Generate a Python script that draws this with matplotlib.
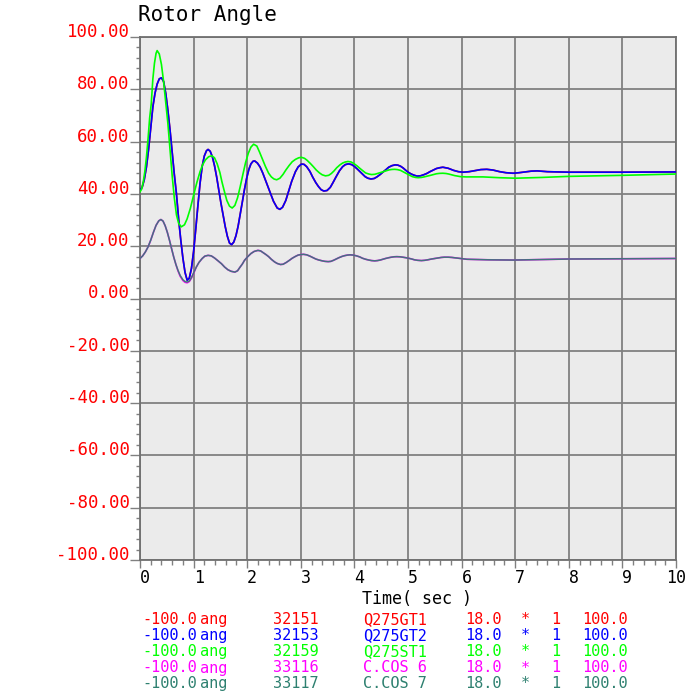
import matplotlib
matplotlib.use("Agg")
import matplotlib.pyplot as plt
from matplotlib.ticker import FixedLocator, MultipleLocator

# ---------------- data ----------------
t_green = [0.00, 0.03, 0.06, 0.09, 0.12, 0.15, 0.18, 0.21, 0.24, 0.27, 0.30, 0.32,
           0.36, 0.40, 0.44, 0.48, 0.52, 0.56, 0.60, 0.64, 0.68, 0.72, 0.77,
           0.83, 0.88, 0.94, 1.00, 1.06, 1.12, 1.17, 1.22, 1.28, 1.34, 1.39, 1.44,
           1.49, 1.53, 1.58, 1.62, 1.67, 1.72, 1.77, 1.82, 1.87, 1.92, 1.97, 2.02,
           2.07, 2.12, 2.18, 2.23, 2.29, 2.34, 2.40, 2.45, 2.50, 2.55, 2.61, 2.67,
           2.72, 2.78, 2.84, 2.90, 2.96, 3.01, 3.07, 3.12, 3.18, 3.23, 3.29, 3.35,
           3.40, 3.46, 3.52, 3.57, 3.62, 3.67, 3.73, 3.78, 3.83, 3.88, 3.94, 3.99,
           4.05, 4.10, 4.16, 4.21, 4.27, 4.32, 4.38, 4.43, 4.54, 4.65, 4.70,
           4.75, 4.80, 4.86, 4.97, 5.08, 5.14, 5.19, 5.25, 5.30, 5.42, 5.53, 5.59,
           5.65, 5.71, 5.76, 5.87, 5.98, 6.08, 6.40, 6.70, 7.00, 7.50, 8.00, 9.00,
           10.00]
v_green = [40.8, 41.8, 44.5, 48.5, 54.0, 61.0, 69.0, 74.5, 84.0, 90.0, 93.8, 94.8,
           93.5, 89.5, 83.0, 75.0, 67.0, 57.0, 47.0, 38.5, 32.0, 28.8, 27.4,
           28.2, 30.5, 34.5, 39.5, 44.3, 48.5, 51.2, 53.0, 54.2, 54.6, 53.8, 51.5,
           48.2, 44.5, 40.5, 37.5, 35.3, 34.6, 35.6, 38.5, 42.8, 47.5, 52.0, 55.5,
           57.9, 59.0, 58.3, 56.0, 53.0, 50.5, 47.9, 46.5, 45.7, 45.4, 46.0, 47.5,
           49.1, 50.8, 52.3, 53.2, 53.8, 54.0, 53.6, 52.8, 51.6, 50.5, 49.1, 48.0,
           47.3, 46.9, 47.1, 47.8, 48.8, 50.0, 51.1, 51.8, 52.2, 52.4, 52.2, 51.6,
           50.7, 49.8, 48.8, 48.0, 47.6, 47.4, 47.5, 47.8, 48.5, 49.2, 49.35,
           49.4, 49.3, 49.0, 47.8, 46.6, 46.3, 46.2, 46.3, 46.5, 47.1, 47.7, 47.85,
           47.9, 47.8, 47.6, 47.0, 46.6, 46.5, 46.5, 46.2, 46.0, 46.3, 46.7, 47.1,
           47.6]

t_gen = [0.00, 0.04, 0.08, 0.12, 0.16, 0.20, 0.24, 0.28, 0.32, 0.36, 0.40, 0.44,
         0.48, 0.52, 0.56, 0.60, 0.64, 0.68, 0.72, 0.76, 0.80, 0.84, 0.88, 0.92,
         0.96, 1.00, 1.04, 1.08, 1.12, 1.16, 1.20, 1.24, 1.27, 1.31, 1.35, 1.39,
         1.43, 1.47, 1.51, 1.55, 1.59, 1.63, 1.67, 1.71, 1.75, 1.79, 1.83, 1.87,
         1.91, 1.95, 1.99, 2.03, 2.07, 2.11, 2.14, 2.19, 2.24, 2.29, 2.34, 2.39,
         2.44, 2.49, 2.56, 2.61, 2.66, 2.72, 2.77, 2.83, 2.90, 2.95, 3.01, 3.06,
         3.11, 3.17, 3.22, 3.28, 3.33, 3.38, 3.43, 3.49, 3.55, 3.60, 3.66, 3.72,
         3.78, 3.83, 3.89, 3.95, 4.00, 4.05, 4.10, 4.15, 4.20, 4.25, 4.31, 4.37,
         4.42, 4.48, 4.53, 4.59, 4.64, 4.70, 4.76, 4.81, 4.86, 4.91, 4.96, 5.01,
         5.06, 5.12, 5.17, 5.23, 5.29, 5.35, 5.41, 5.47, 5.53, 5.59, 5.65, 5.75,
         5.85, 5.94, 6.03, 6.14, 6.25, 6.36, 6.47, 6.59, 6.71, 6.83, 6.96, 7.07,
         7.18, 7.30, 7.41, 7.60, 8.00, 9.00, 10.00]
v_gt2 = [41.5, 42.5, 45.5, 50.3, 57.0, 65.0, 73.3, 78.5, 82.0, 84.0, 84.4, 83.0,
         78.5, 72.0, 64.5, 56.0, 47.5, 40.0, 30.5, 22.5, 15.5, 10.0, 7.0, 7.8,
         11.5, 18.0, 26.5, 35.5, 44.0, 50.5, 54.5, 56.5, 57.0, 56.3, 54.2, 50.8,
         46.5, 41.5, 36.5, 32.0, 27.5, 23.8, 21.2, 20.6, 21.6, 24.0, 27.6, 32.2,
         37.0, 41.8, 46.0, 49.3, 51.5, 52.5, 52.6, 51.8, 50.3, 48.0, 45.3, 42.7,
         39.8, 37.2, 34.6, 34.1, 34.9, 37.5, 40.8, 44.8, 48.5, 50.3, 51.4, 51.3,
         50.4, 48.6, 46.5, 44.3, 42.8, 41.6, 41.1, 41.3, 42.5, 44.3, 46.6, 48.8,
         50.4, 51.2, 51.5, 51.2, 50.5, 49.6, 48.6, 47.6, 46.6, 46.0, 45.7, 45.9,
         46.5, 47.4, 48.3, 49.3, 50.2, 50.8, 51.1, 51.0, 50.6, 49.9, 49.0, 48.2,
         47.6, 47.1, 46.8, 46.9, 47.3, 47.8, 48.5, 49.1, 49.7, 50.0, 50.2, 49.8,
         49.0, 48.5, 48.3, 48.5, 48.9, 49.3, 49.4, 49.1, 48.5, 48.1, 47.9, 48.1,
         48.4, 48.7, 48.8, 48.5, 48.3, 48.3, 48.4]
v_gt1 = list(v_gt2)

t_cos = [0.00, 0.05, 0.10, 0.15, 0.20, 0.25, 0.30, 0.35, 0.39, 0.43, 0.47, 0.51,
         0.55, 0.59, 0.63, 0.67, 0.71, 0.75, 0.80, 0.84, 0.88, 0.92, 0.96, 1.00,
         1.05, 1.10, 1.16, 1.21, 1.27, 1.33, 1.39, 1.45, 1.52, 1.58, 1.64, 1.70,
         1.77, 1.82, 1.86, 1.91, 1.95, 2.01, 2.07, 2.13, 2.20, 2.25, 2.30, 2.35,
         2.40, 2.45, 2.51, 2.56, 2.62, 2.67, 2.73, 2.78, 2.84, 2.90, 2.95, 3.00,
         3.05, 3.11, 3.17, 3.22, 3.28, 3.34, 3.40, 3.45, 3.51, 3.56, 3.61, 3.66,
         3.71, 3.77, 3.82, 3.87, 3.92, 3.98, 4.04, 4.10, 4.15, 4.21, 4.27, 4.32,
         4.38, 4.43, 4.48, 4.53, 4.58, 4.64, 4.69, 4.74, 4.79, 4.85, 4.90, 4.96,
         5.01, 5.07, 5.12, 5.18, 5.25, 5.31, 5.37, 5.44, 5.50, 5.56, 5.62, 5.68,
         5.75, 5.82, 5.90, 6.10, 6.50, 6.96, 7.50, 8.00, 9.00, 10.00]
v_cos6 = [15.3, 16.3, 17.8, 19.7, 22.3, 25.3, 28.0, 29.7, 30.2, 29.6, 27.8, 25.3,
          22.3, 19.0, 15.8, 13.0, 10.5, 8.5, 6.9, 6.2, 6.0, 6.5, 7.8, 9.6,
          12.0, 13.8, 15.3, 16.2, 16.5, 16.3, 15.5, 14.5, 13.3, 12.0, 11.0, 10.4,
          10.1, 10.6, 11.8, 13.2, 14.6, 16.0, 17.2, 18.0, 18.4, 18.2, 17.5, 16.8,
          16.0, 15.0, 14.0, 13.4, 13.0, 13.1, 13.8, 14.5, 15.4, 16.1, 16.6, 16.8,
          16.9, 16.7, 16.2, 15.7, 15.1, 14.7, 14.4, 14.2, 14.1, 14.2, 14.6, 15.1,
          15.6, 16.1, 16.4, 16.6, 16.7, 16.6, 16.3, 15.9, 15.4, 15.0, 14.7, 14.5,
          14.4, 14.5, 14.7, 15.0, 15.3, 15.6, 15.8, 15.95, 16.0, 15.95, 15.8, 15.6,
          15.4, 15.1, 14.8, 14.6, 14.5, 14.6, 14.8, 15.1, 15.3, 15.5, 15.7, 15.8,
          15.8, 15.7, 15.5, 15.0, 14.8, 14.7, 14.9, 15.1, 15.2, 15.3]
v_cos7 = [15.3, 16.3, 17.8, 19.7, 22.3, 25.3, 28.0, 29.7, 30.2, 29.6, 27.8, 25.3,
          22.3, 19.0, 15.8, 13.0, 10.7, 8.8, 7.2, 6.5, 6.3, 6.7, 8.0, 9.8,
          12.0, 13.8, 15.3, 16.2, 16.5, 16.3, 15.5, 14.5, 13.3, 12.0, 11.0, 10.4,
          10.1, 10.6, 11.8, 13.2, 14.6, 16.0, 17.2, 18.0, 18.4, 18.2, 17.5, 16.8,
          16.0, 15.0, 14.0, 13.4, 13.0, 13.1, 13.8, 14.5, 15.4, 16.1, 16.6, 16.8,
          16.9, 16.7, 16.2, 15.7, 15.1, 14.7, 14.4, 14.2, 14.1, 14.2, 14.6, 15.1,
          15.6, 16.1, 16.4, 16.6, 16.7, 16.6, 16.3, 15.9, 15.4, 15.0, 14.7, 14.5,
          14.4, 14.5, 14.7, 15.0, 15.3, 15.6, 15.8, 15.95, 16.0, 15.95, 15.8, 15.6,
          15.4, 15.1, 14.8, 14.6, 14.5, 14.6, 14.8, 15.1, 15.3, 15.5, 15.7, 15.8,
          15.8, 15.7, 15.5, 15.0, 14.8, 14.7, 14.9, 15.1, 15.2, 15.3]

y_ticks = [100, 80, 60, 40, 20, 0, -20, -40, -60, -80, -100]
y_labels = ["100.00", "80.00", "60.00", "40.00", "20.00", "0.00",
            "-20.00", "-40.00", "-60.00", "-80.00", "-100.00"]
x_ticks = [0, 1, 2, 3, 4, 5, 6, 7, 8, 9, 10]
x_labels = ["0", "1", "2", "3", "4", "5", "6", "7", "8", "9", "10"]

legend_min = ["-100.0"] * 5
legend_unit = ["ang"] * 5
legend_bus = ["32151", "32153", "32159", "33116", "33117"]
legend_name = ["Q275GT1", "Q275GT2", "Q275ST1", "C.COS 6", "C.COS 7"]
legend_kv = ["18.0"] * 5
legend_star = ["*"] * 5
legend_id = ["1"] * 5
legend_max = ["100.0"] * 5
colors = ["#ff0000", "#0000ff", "#00ff00", "#ff00ff", "#2e8070"]

title = "Rotor Angle"
xlabel = "Time( sec )"

# ---------------- figure ----------------
W, H = 689, 696
fig = plt.figure(figsize=(W / 100, H / 100), dpi=100)
plt.rcParams['font.family'] = ['DejaVu Sans Mono', 'DejaVu Sans']

L, R, T, B = 140, 676, 37, 560
ax = fig.add_axes([L / W, 1 - B / H, (R - L) / W, (B - T) / H])
ax.set_facecolor("#ebebeb")
ax.set_xlim(0, 10)
ax.set_ylim(-100, 100)

ax.plot(t_gen, v_gt1, color=colors[0], lw=1.2, zorder=3)
ax.plot(t_gen, v_gt2, color=colors[1], lw=1.2, zorder=3)
ax.plot(t_green, v_green, color=colors[2], lw=1.2, zorder=3)
ax.plot(t_cos, v_cos6, color=colors[3], lw=1.2, zorder=3)
ax.plot(t_cos, v_cos7, color=colors[4], lw=1.1, alpha=0.9, zorder=3)

ax.xaxis.set_major_locator(FixedLocator(x_ticks))
ax.yaxis.set_major_locator(FixedLocator(y_ticks))
ax.xaxis.set_minor_locator(MultipleLocator(0.2))
ax.yaxis.set_minor_locator(MultipleLocator(4))
ax.set_xticklabels(x_labels)
ax.set_yticklabels(y_labels)
ax.grid(True, which="major", color="#808080", lw=1.3, zorder=1)
ax.set_axisbelow(True)

for s in ["left", "top", "right", "bottom"]:
    ax.spines[s].set_color("#707070")
    ax.spines[s].set_linewidth(1.3)

ax.tick_params(axis="y", which="major", direction="out", length=7.5, width=1,
               color="#808080", labelcolor="#ff0000", labelsize=12.5, pad=0)
ax.tick_params(axis="y", which="minor", direction="out", length=3, width=1,
               color="#808080")
ax.tick_params(axis="x", which="major", direction="out", length=6, width=1,
               color="#808080", labelcolor="black", labelsize=12, pad=0.5)
ax.tick_params(axis="x", which="minor", direction="out", length=3.5, width=1,
               color="#808080")
for lab in ax.get_yticklabels():
    lab.set_va("baseline")
for lab in ax.get_xticklabels():
    if len(lab.get_text()) == 1:
        lab.set_ha("left")
    else:
        lab.set_ha("center")

def fx(px):
    return px / W

def fy(py):
    return 1 - py / H

fig.text(fx(138), fy(15), title, ha="left", va="center", fontsize=15,
         color="black")
fig.text(fx(417), fy(599), xlabel, ha="center", va="center", fontsize=12,
         color="black")

row_base = [624, 640, 656, 672.5, 688]
fs = 11
for i in range(5):
    c = colors[i]
    yb = fy(row_base[i])
    fig.text(fx(142), yb, legend_min[i], ha="left", va="baseline", fontsize=fs, color=c)
    fig.text(fx(200), yb, legend_unit[i], ha="left", va="baseline", fontsize=fs, color=c)
    fig.text(fx(273), yb, legend_bus[i], ha="left", va="baseline", fontsize=fs, color=c)
    fig.text(fx(363), yb, legend_name[i], ha="left", va="baseline", fontsize=fs, color=c)
    fig.text(fx(465), yb, legend_kv[i], ha="left", va="baseline", fontsize=fs, color=c)
    fig.text(fx(525), yb, legend_star[i], ha="center", va="baseline", fontsize=fs, color=c)
    fig.text(fx(556), yb, legend_id[i], ha="center", va="baseline", fontsize=fs, color=c)
    fig.text(fx(582), yb, legend_max[i], ha="left", va="baseline", fontsize=fs, color=c)

fig.savefig("out.png", dpi=100, facecolor="white")
